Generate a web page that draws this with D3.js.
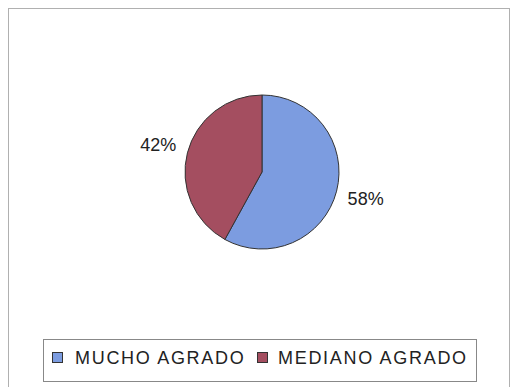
<!DOCTYPE html>
<html><head><meta charset="utf-8">
<script src="https://cdn.jsdelivr.net/npm/d3@7"></script>
<style>body{margin:0;background:#fff}svg{display:block}</style>
</head><body>
<script>
const categories = ["MUCHO AGRADO", "MEDIANO AGRADO"];
const values = [58, 42];
const labels = ["58%", "42%"];
const colors = ["#7c9ce0", "#a44e60"];

const W = 512, H = 387;
const svg = d3.select("body").append("svg").attr("width", W).attr("height", H);

// outer frame
svg.append("rect").attr("x", 8.5).attr("y", 8.5).attr("width", 501).attr("height", 390)
  .attr("fill", "#fff").attr("stroke", "#b0b0b0").attr("stroke-width", 1);

const cx = 262, cy = 172, r = 77;
const data = categories.map((c, i) => ({c, v: values[i], l: labels[i], col: colors[i]}));
const pie = d3.pie().value(d => d.v).sort(null);
const arc = d3.arc().innerRadius(0).outerRadius(r);
const arcs = pie(data);
const g = svg.append("g").attr("transform", `translate(${cx},${cy})`);
g.selectAll("path").data(arcs).join("path")
  .attr("d", arc).attr("fill", d => d.data.col)
  .attr("stroke", "#333").attr("stroke-width", 1);

const labelArc = d3.arc().innerRadius(r + 30).outerRadius(r + 30);
g.selectAll("text").data(arcs).join("text")
  .attr("transform", d => { const [x, y] = labelArc.centroid(d); return `translate(${x},${y})`; })
  .attr("text-anchor", "middle").attr("dominant-baseline", "central")
  .attr("font-family", "Liberation Sans, Arial, sans-serif").attr("font-size", 18)
  .attr("fill", "#222").text(d => d.data.l);

// legend
const lg = svg.append("g");
lg.append("rect").attr("x", 43.5).attr("y", 339.5).attr("width", 433).attr("height", 42)
  .attr("fill", "#fff").attr("stroke", "#888").attr("stroke-width", 1);
const items = [{x: 52, tx: 75}, {x: 257, tx: 278}];
data.forEach((d, i) => {
  lg.append("rect").attr("x", items[i].x + 0.5).attr("y", 352.5).attr("width", 10).attr("height", 10)
    .attr("fill", d.col).attr("stroke", "#333").attr("stroke-width", 1);
  lg.append("text").attr("x", items[i].tx).attr("y", 358)
    .attr("dominant-baseline", "central")
    .attr("font-family", "Liberation Sans, Arial, sans-serif").attr("font-size", 18)
    .attr("fill", "#222").attr("letter-spacing", 1.7).text(d.c);
});
</script>
</body></html>
